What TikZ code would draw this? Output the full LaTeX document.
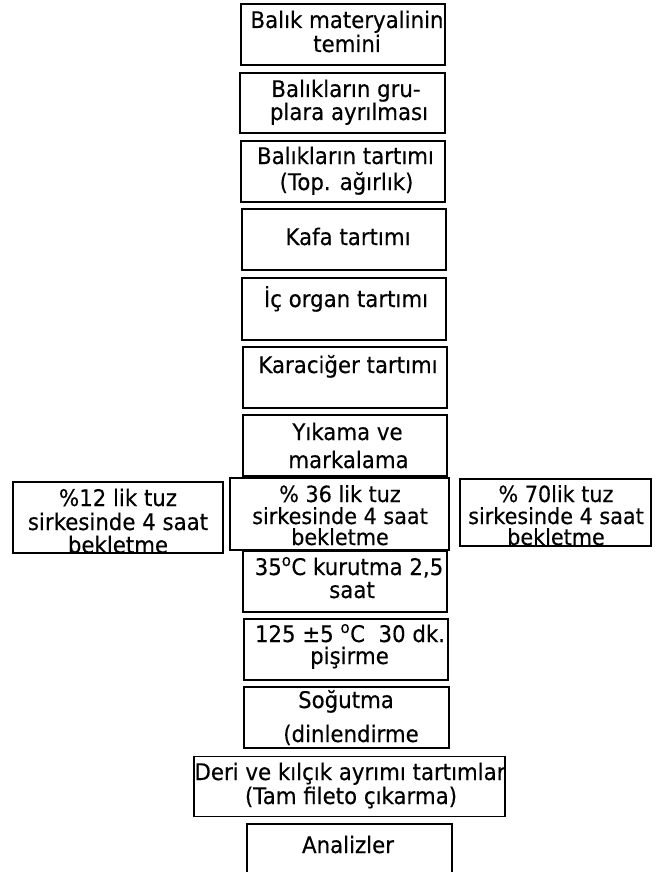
\documentclass[tikz,border=0pt]{standalone}
\usepackage{fontspec}
\setmainfont[FakeBold=0.35,FakeStretch=0.93]{DejaVu Sans}
\begin{document}
\begin{tikzpicture}[x=1pt,y=-1pt,
  box/.style={draw=black, line width=1.3pt, inner sep=0pt, outer sep=0pt},
  txt/.style={inner sep=0pt, outer sep=0pt, anchor=base, font=\fontsize{22.9}{24}\selectfont},
  stxt/.style={txt, font=\fontsize{22.3}{24}\selectfont}]
\useasboundingbox (0,0) rectangle (660,872);
% boxes
\node[box, minimum width=204pt, minimum height=61pt] (b1) at (343,34.5) {};
\node[box, minimum width=205pt, minimum height=60pt] (b2) at (342.5,103) {};
\node[box, minimum width=204pt, minimum height=61pt] (b3) at (343,171.5) {};
\node[box, minimum width=204pt, minimum height=61pt] (b4) at (344,239.5) {};
\node[box, minimum width=204pt, minimum height=62pt] (b5) at (344,309) {};
\node[box, minimum width=204pt, minimum height=61pt] (b6) at (345,377.5) {};
\node[box, minimum width=204pt, minimum height=61pt] (b7) at (345,445.5) {};
\node[box, minimum width=210pt, minimum height=71pt] (bl) at (118,517.5) {};
\node[box, minimum width=219pt, minimum height=72pt] (bm) at (339.5,514) {};
\node[box, minimum width=191pt, minimum height=67pt] (br) at (555.5,512.5) {};
\node[box, minimum width=204pt, minimum height=61pt] (b8) at (345,581.5) {};
\node[box, minimum width=204pt, minimum height=61pt] (b9) at (346,649.5) {};
\node[box, minimum width=205pt, minimum height=61pt] (b10) at (346.5,717.5) {};
\node[box, minimum width=311pt, minimum height=60pt] (b11) at (349.5,786.5) {};
\node[box, minimum width=205pt, minimum height=60pt] (b12) at (349.5,854) {};
% texts
\node[txt] (t1a) at (347,28) {Balık materyalinin};
\node[txt] (t1b) at (347,52) {temini};
\node[txt] (t2a) at (346,97) {Balıkların gru-};
\node[txt] (t2b) at (349,120) {plara ayrılması};
\node[txt] (t3a) at (345.5,164) {Balıkların tartımı};
\node[txt] (t3b) at (346.5,190) {(Top. ağırlık)};
\node[txt] (t4) at (348,245) {Kafa tartımı};
\node[txt] (t5) at (346,307) {İç organ tartımı};
\node[txt] (t6) at (348,373) {Karaciğer tartımı};
\node[txt] (t7a) at (347.5,440) {Yıkama ve};
\node[txt] (t7b) at (348.5,468) {markalama};
\node[txt] (tla) at (118,506) {\%12 lik tuz};
\node[txt] (tlb) at (118,530) {sirkesinde 4 saat};
\node[txt] (tlc) at (118,553) {bekletme};
\node[stxt] (tma) at (340,502) {\% 36 lik tuz};
\node[stxt] (tmb) at (340,524) {sirkesinde 4 saat};
\node[stxt] (tmc) at (340,545) {bekletme};
\node[stxt] (tra) at (556,502) {\% 70lik tuz};
\node[stxt] (trb) at (556,524) {sirkesinde 4 saat};
\node[stxt] (trc) at (556,545) {bekletme};
\node[txt] (t8a) at (349,575) {35\textsuperscript{o}C kurutma 2,5};
\node[txt] (t8b) at (352,598) {saat};
\node[txt] (t9a) at (350,642) {125 ±5 \textsuperscript{o}C\ \ 30 dk.};
\node[txt] (t9b) at (349.5,664) {pişirme};
\node[txt] (t10a) at (346,708) {Soğutma};
\node[txt] (t10b) at (351,742) {(dinlendirme};
\node[txt] (t11a) at (350,780) {Deri ve kılçık ayrımı tartımlar};
\node[txt] (t11b) at (351,804) {(Tam fileto çıkarma)};
\node[txt] (t12) at (348,853) {Analizler};
\end{tikzpicture}
\end{document}
